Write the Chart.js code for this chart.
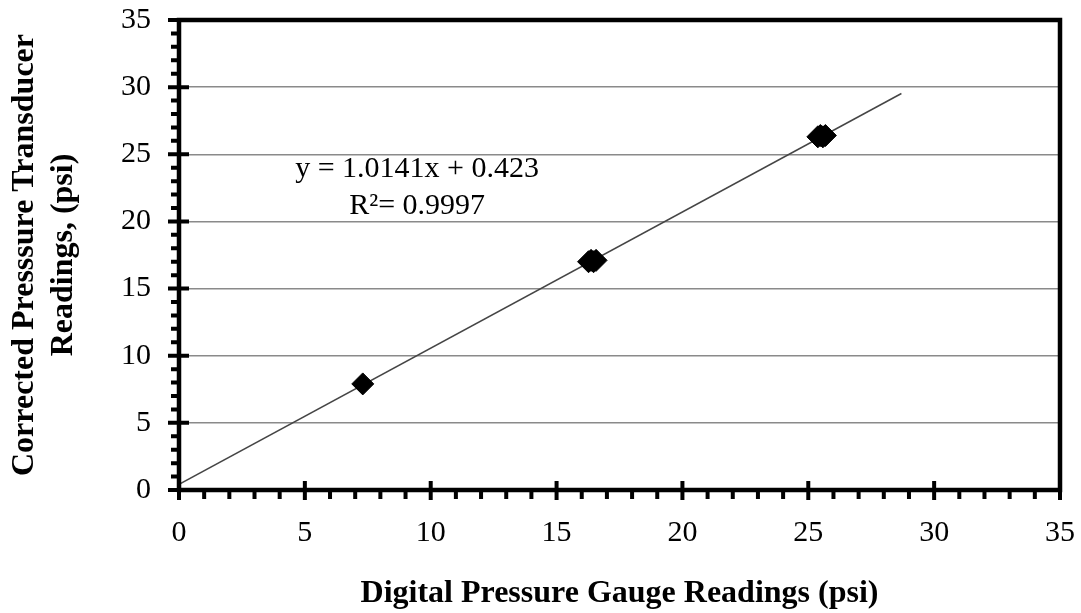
<!DOCTYPE html>
<html>
<head>
<meta charset="utf-8">
<script src="https://cdn.jsdelivr.net/npm/chart.js@4/dist/chart.umd.min.js"></script>
<style>
  html, body { margin: 0; padding: 0; background: #fff; }
  #wrap { width: 1081px; height: 613px; }
</style>
</head>
<body>
<div id="wrap"><canvas id="chart" width="1081" height="613"></canvas></div>
<script>
// Calibration readings: digital gauge (x) vs corrected transducer (y), psi
const gaugeReadings      = [7.3, 16.27, 16.37, 16.47, 16.57, 25.38, 25.48, 25.58, 25.68];
const transducerReadings = [7.9, 17.0, 17.1, 17.0, 17.1, 26.3, 26.4, 26.3, 26.4];

// Linear fit reported on the chart
const fitSlope = 1.0141;
const fitIntercept = 0.423;
const fitR2 = 0.9997;
const fitRange = [0, 28.7];

// Axis ranges
const axisMin = 0;
const axisMax = 35;
const majorStep = 5;
const minorStep = 1;

const xTitle = 'Digital Pressure Gauge Readings (psi)';
const yTitle = ['Corrected Presssure Transducer', 'Readings, (psi)'];

const equationText = 'y = ' + fitSlope + 'x + ' + fitIntercept;
const r2Text = 'R\u00B2= ' + fitR2;

const points = gaugeReadings.map((x, i) => ({ x, y: transducerReadings[i] }));
const fitLine = fitRange.map(x => ({ x, y: fitSlope * x + fitIntercept }));

const serif = "'Liberation Serif', 'Times New Roman', serif";

// Draws the heavy frame, the major/minor tick marks and the fit equation
const framePlugin = {
  id: 'frame',
  afterDatasetsDraw(chart, args, opts) {
    const { ctx, chartArea: a } = chart;
    const xs = chart.scales.x, ys = chart.scales.y;
    ctx.save();

    // equation text, anchored in data coordinates
    ctx.fillStyle = '#000';
    ctx.font = '30px ' + serif;
    ctx.textAlign = 'center';
    ctx.textBaseline = 'middle';
    ctx.fillText(equationText, xs.getPixelForValue(opts.eqX), ys.getPixelForValue(opts.eqY));
    ctx.fillText(r2Text, xs.getPixelForValue(opts.eqX), ys.getPixelForValue(opts.r2Y));

    ctx.strokeStyle = '#000';
    ctx.lineCap = 'butt';

    // tick marks
    ctx.lineWidth = 4;
    for (let v = axisMin; v <= axisMax + 1e-9; v += minorStep) {
      const major = Math.abs(v % majorStep) < 1e-9;
      const py = ys.getPixelForValue(v);
      const px = xs.getPixelForValue(v);
      ctx.beginPath();
      if (major) {
        ctx.moveTo(a.left - 11, py); ctx.lineTo(a.left + 10, py);
        ctx.moveTo(px, a.bottom - 9); ctx.lineTo(px, a.bottom + 10);
      } else {
        ctx.moveTo(a.left - 8, py); ctx.lineTo(a.left, py);
        ctx.moveTo(px, a.bottom); ctx.lineTo(px, a.bottom + 9);
      }
      ctx.stroke();
    }

    // frame
    ctx.lineWidth = 4.5;
    ctx.lineJoin = 'miter';
    ctx.strokeRect(a.left, a.top, a.right - a.left, a.bottom - a.top);
    ctx.restore();
  }
};

new Chart(document.getElementById('chart'), {
  type: 'scatter',
  data: {
    datasets: [
      {
        type: 'line',
        label: 'Linear fit',
        data: fitLine,
        borderColor: '#454545',
        borderWidth: 1.5,
        pointRadius: 0,
        fill: false,
        order: 2
      },
      {
        label: 'Readings',
        data: points,
        pointStyle: 'rectRot',
        pointRadius: 11,
        pointHoverRadius: 11,
        backgroundColor: '#000',
        borderColor: '#000',
        borderWidth: 1,
        order: 1
      }
    ]
  },
  options: {
    responsive: false,
    animation: false,
    events: [],
    layout: { padding: { top: 20, right: 21, left: 0, bottom: 0 } },
    plugins: {
      legend: { display: false },
      tooltip: { enabled: false },
      frame: { eqX: 9.46, eqY: 23.9, r2Y: 21.15 }
    },
    scales: {
      x: {
        type: 'linear',
        min: axisMin, max: axisMax,
        afterFit(s) { s.height = 123; s.paddingLeft = 0; s.paddingRight = 0; },
        border: { display: false },
        grid: { display: false, drawTicks: false },
        ticks: {
          stepSize: majorStep,
          padding: 25,
          color: '#000',
          font: { family: serif, size: 30 }
        },
        title: {
          display: true,
          text: xTitle,
          color: '#000',
          font: { family: serif, size: 32, weight: 'bold' },
          padding: { top: 0, bottom: 0 }
        }
      },
      y: {
        type: 'linear',
        min: axisMin, max: axisMax,
        afterFit(s) { s.width = 179; s.paddingTop = 0; s.paddingBottom = 0; },
        border: { display: false },
        grid: { color: '#8a8a8a', lineWidth: 1.5, drawTicks: false },
        ticks: {
          stepSize: majorStep,
          padding: 28,
          color: '#000',
          font: { family: serif, size: 30 }
        },
        title: {
          display: true,
          text: yTitle,
          color: '#000',
          font: { family: serif, size: 32, weight: 'bold', lineHeight: 1.2 },
          padding: { top: 6, bottom: 0 }
        }
      }
    }
  },
  plugins: [framePlugin]
});
</script>
</body>
</html>
